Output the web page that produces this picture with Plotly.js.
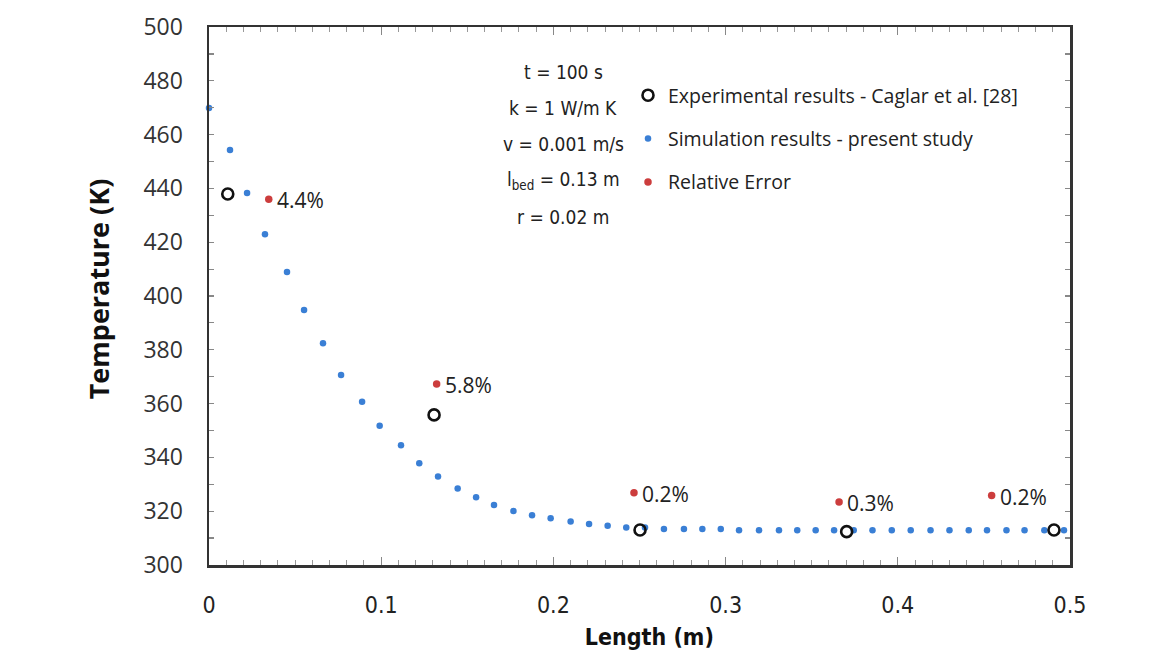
<!DOCTYPE html>
<html>
<head>
<meta charset="utf-8">
<script src="https://cdn.plot.ly/plotly-3.0.1.min.js"></script>
<style>html,body{margin:0;padding:0;background:#fff;}#chart{width:1164px;height:655px;}</style>
</head>
<body>
<div id="chart"></div>
<script>
// Simulation results - present study
const simLength = [0, 0.0122, 0.0221, 0.0325, 0.0453, 0.0552, 0.0662, 0.0767, 0.0889, 0.0991,
  0.1115, 0.1221, 0.1330, 0.1444, 0.1551, 0.1655, 0.1768, 0.1876, 0.1984, 0.2100,
  0.2207, 0.2315, 0.2423, 0.2532, 0.2642, 0.2758, 0.2865, 0.2972, 0.3078, 0.3194,
  0.3310, 0.3416, 0.3523, 0.3630, 0.3744, 0.3853, 0.3965, 0.4075, 0.4190, 0.4300,
  0.4412, 0.4518, 0.4631, 0.4736, 0.4851, 0.4965];
const simTemp = [469.9, 454.3, 438.3, 423.0, 408.9, 394.8, 382.4, 370.6, 360.7, 351.8,
  344.5, 337.8, 332.9, 328.4, 325.2, 322.3, 320.1, 318.5, 317.4, 316.2,
  315.2, 314.6, 313.9, 313.9, 313.4, 313.4, 313.4, 313.4, 312.9, 312.9,
  312.9, 312.9, 312.9, 312.9, 312.9, 312.9, 312.9, 312.9, 312.9, 312.9,
  312.9, 312.9, 312.9, 312.9, 312.9, 312.9];

// Experimental results - Caglar et al. [28]
const expLength = [0.0109, 0.1307, 0.2503, 0.3703, 0.4907];
const expTemp = [437.9, 355.8, 313.0, 312.4, 313.0];

// Relative error markers and labels
const errLength = [0.0347, 0.1322, 0.2468, 0.3659, 0.4545];
const errTemp = [436.0, 367.3, 326.9, 323.4, 325.8];
const errLabels = ['4.4%', '5.8%', '0.2%', '0.3%', '0.2%'];

// Parameter text block
const paramLines = ['t = 100 s', 'k = 1 W/m K', 'v = 0.001 m/s', 'l<sub>bed</sub> = 0.13 m', 'r = 0.02 m'];

const seriesNames = ['Experimental results - Caglar et al. [28]', 'Simulation results - present study', 'Relative Error'];

const NARROW = '"Liberation Sans Narrow", "DejaVu Sans Condensed", "Arial Narrow", sans-serif';
const SANS = '"Open Sans", "Noto Sans", sans-serif';

const traces = [
  {
    x: simLength, y: simTemp, type: 'scatter', mode: 'markers', cliponaxis: false,
    name: seriesNames[1], legendgroup: 'g2', legendrank: 2,
    marker: {color: '#3a7fd5', size: 6.5}
  },
  {
    x: expLength, y: expTemp, type: 'scatter', mode: 'markers', cliponaxis: false,
    name: seriesNames[0], legendgroup: 'g1', legendrank: 1,
    marker: {symbol: 'circle-open', color: '#111', size: 11, line: {width: 2.6, color: '#111'}}
  },
  {
    x: errLength, y: errTemp, type: 'scatter', mode: 'markers', cliponaxis: false,
    name: seriesNames[2], legendgroup: 'g3', legendrank: 3,
    marker: {color: '#cc3d3d', size: 7.5}
  }
];

const annotations = errLabels.map((t, i) => ({
  x: errLength[i], y: errTemp[i], xref: 'x', yref: 'y',
  text: t, showarrow: false, xanchor: 'left', yanchor: 'middle',
  xshift: 6, yshift: -1,
  font: {family: SANS, size: 21, color: '#222'}
}));

const L = 209, R = 94, T = 27, B = 90, W = 1164, H = 655;
const pw = W - L - R, ph = H - T - B;

const paramTop = 72, paramStep = 36.2;
paramLines.forEach((t, i) => {
  annotations.push({
    x: (563 - L) / pw, y: 1 - (paramTop + i * paramStep - T) / ph, xref: 'paper', yref: 'paper',
    text: t, showarrow: false, xanchor: 'center', yanchor: 'middle',
    font: {family: NARROW, size: 19, color: '#222'}
  });
});

const layout = {
  width: W, height: H,
  margin: {l: L, r: R, t: T, b: B, pad: 0},
  paper_bgcolor: '#fff', plot_bgcolor: '#fff',
  showlegend: true,
  legend: {
    x: (628 - L) / pw, y: 1 - (76 - T) / ph, xanchor: 'left', yanchor: 'top',
    traceorder: 'grouped', tracegroupgap: 15,
    font: {family: SANS, size: 19.5, color: '#222'},
    bgcolor: 'rgba(0,0,0,0)', itemwidth: 30
  },
  xaxis: {
    range: [0, 0.5], tick0: 0, dtick: 0.1,
    ticks: 'inside', ticklen: 8, tickwidth: 1.2, tickcolor: '#888',
    minor: {dtick: 0.01, ticks: 'inside', ticklen: 5, tickwidth: 1, tickcolor: '#999', showgrid: false},
    showline: true, linecolor: '#333', linewidth: 2.5, mirror: 'allticks',
    showgrid: false, zeroline: false,
    tickfont: {family: NARROW, size: 23, color: '#222'},
    ticklabelstandoff: 18,
    title: {text: '&#160;&#160;&#160;<b>Length (m)</b>', font: {family: NARROW, size: 23, color: '#111'}, standoff: 12}
  },
  yaxis: {
    range: [300, 500], tick0: 300, dtick: 20,
    ticks: 'inside', ticklen: 5, tickwidth: 1.2, tickcolor: '#888',
    minor: {dtick: 10, ticks: 'inside', ticklen: 5, tickwidth: 1.2, tickcolor: '#888', showgrid: false},
    showline: true, linecolor: '#333', linewidth: 2.5, mirror: 'allticks',
    showgrid: false, zeroline: false,
    tickfont: {family: SANS, size: 23, color: '#333'},
    ticklabelstandoff: 19,
    title: {text: '&#160;&#160;<b>Temperature (K)</b>', font: {family: SANS, size: 27, color: '#111'}, standoff: 26}
  },
  annotations: annotations
};

Plotly.newPlot('chart', traces, layout, {displayModeBar: false, staticPlot: true});
</script>
</body>
</html>
